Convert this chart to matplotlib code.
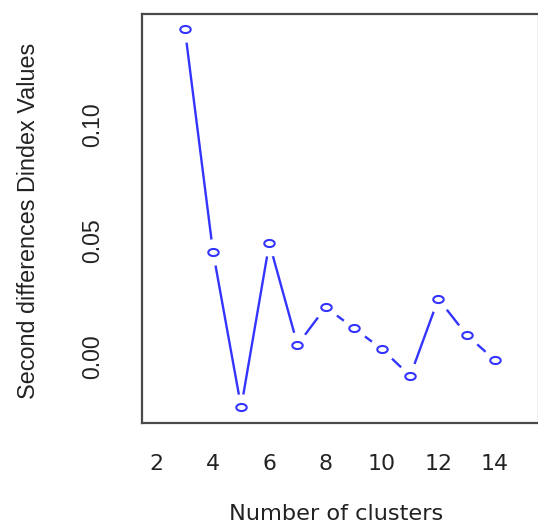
import numpy as np
import matplotlib
matplotlib.use("Agg")
import matplotlib.pyplot as plt
from matplotlib.path import Path

# data
clusters = [3, 4, 5, 6, 7, 8, 9, 10, 11, 12, 13, 14]
dindex2 = [0.1356, 0.0396, -0.0275, 0.0432, -0.0006, 0.0156,
           0.0066, -0.0025, -0.0140, 0.0192, 0.0037, -0.0071]
xticks = [2, 4, 6, 8, 10, 12, 14]
yticks = [0.00, 0.05, 0.10]

blue = '#3434ff'
txt = '#222222'

# the reference is a bit stretched sideways, so the open points are flat ellipses
t = np.linspace(0, 2 * np.pi, 40)
ellipse = Path(np.column_stack([np.cos(t), 0.68 * np.sin(t)]), closed=True)

fig = plt.figure(figsize=(5.38, 5.28), dpi=100)
ax = fig.add_axes([142 / 538, 105 / 528, 395.5 / 538, 409.5 / 528])

# R type="b": line with gaps around each point
ax.plot(clusters, dindex2, color=blue, lw=1.7, zorder=2)
ax.plot(clusters, dindex2, ls='none', marker='o', ms=19, mfc='white', mec='none', zorder=3)
ax.plot(clusters, dindex2, ls='none', marker=ellipse, ms=7.5, mfc='none',
        mec=blue, mew=1.5, zorder=4)

ax.set_xlim(1.48, 15.52)
ax.set_ylim(-0.0343, 0.1422)
ax.set_xticks(xticks)
ax.set_yticks(yticks)
ax.set_yticklabels(['%.2f' % v for v in yticks])

ax.tick_params(axis='x', length=0, pad=22, labelsize=15.8, labelcolor=txt)
ax.tick_params(axis='y', length=0, pad=27, labelsize=16.6, labelcolor=txt, labelrotation=90)
for lab in ax.get_xticklabels():
    lab.set_family('DejaVu Sans')
for lab in ax.get_yticklabels():
    lab.set_family('Liberation Sans')

ax.set_xlabel('Number of clusters', fontsize=16.2, family='DejaVu Sans', color=txt)
ax.set_ylabel('Second differences Dindex Values', fontsize=16.8,
              family='Liberation Sans', color=txt)
ax.xaxis.set_label_coords(0.4917, -0.198)
ax.yaxis.set_label_coords(-0.257, 0.493)

for side in ['left', 'top', 'bottom']:
    ax.spines[side].set_color('#4a4a4a')
    ax.spines[side].set_linewidth(1.6)
ax.spines['right'].set_color('#bbbbbb')
ax.spines['right'].set_linewidth(1.0)

fig.savefig('out.png', dpi=100)
